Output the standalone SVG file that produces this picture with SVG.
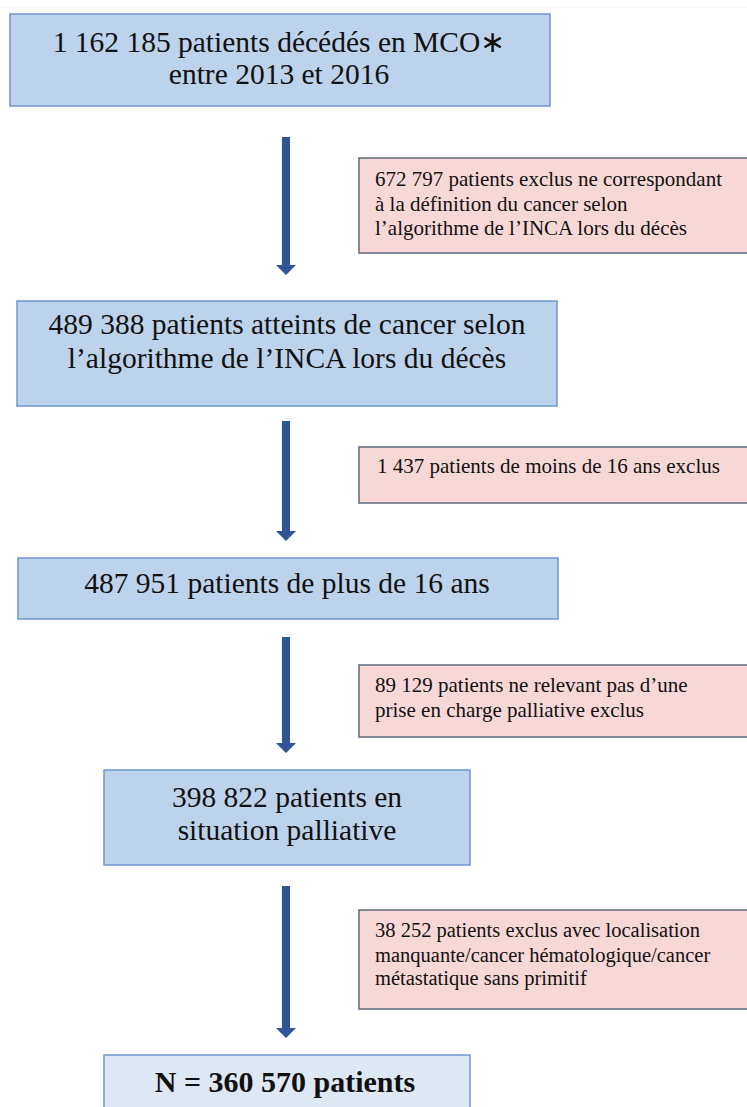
<svg xmlns="http://www.w3.org/2000/svg" width="747" height="1107" viewBox="0 0 747 1107">
<defs>
<style>
.main{fill:#bdd3ec;stroke:#6f95d2;stroke-width:1.5}
.final{fill:#dde8f4;stroke:#6f95d2;stroke-width:1.5}
.excl{fill:#f8d8d7;stroke:#5e6a7e;stroke-width:1.5}
text{font-family:'Liberation Serif','Times New Roman',Times,serif;fill:#111}
.mt{font-size:29.5px;text-anchor:middle}
.bt{font-size:30px;font-weight:bold;text-anchor:middle}
.et{font-size:21px}
.et2{font-size:20.5px}
.arr{fill:#2f5597}
</style>
</defs>
<rect width="747" height="1107" fill="#ffffff"/>
<line x1="0" y1="7" x2="747" y2="7" stroke="#f0f0f0" stroke-width="1"/>

<g id="connectors">
<path class="arr" d="M282,137 H290 V265 H296 L286,275 L276,265 H282 Z"/>
<path class="arr" d="M282,421 H290 V531 H296 L286,541 L276,531 H282 Z"/>
<path class="arr" d="M282,637 H290 V743 H296 L286,753 L276,743 H282 Z"/>
<path class="arr" d="M282,886 H290 V1028 H296 L286,1038 L276,1028 H282 Z"/>
</g>

<g id="n1">
<rect class="main" x="10" y="14" width="540" height="92"/>
<text class="mt" x="279" y="52">1 162 185 patients décédés en MCO∗</text>
<text class="mt" x="279" y="84">entre 2013 et 2016</text>
</g>

<g id="e1">
<rect class="excl" x="359" y="158" width="392" height="95"/>
<text class="et" x="375" y="186">672 797 patients exclus ne correspondant</text>
<text class="et" x="375" y="211">à la définition du cancer selon</text>
<text class="et" x="375" y="235">l’algorithme de l’INCA lors du décès</text>
</g>

<g id="n2">
<rect class="main" x="17" y="301" width="540" height="105"/>
<text class="mt" x="287" y="334">489 388 patients atteints de cancer selon</text>
<text class="mt" x="287" y="368">l’algorithme de l’INCA lors du décès</text>
</g>

<g id="e2">
<rect class="excl" x="359" y="447" width="392" height="56"/>
<text class="et" x="377" y="473">1 437 patients de moins de 16 ans exclus</text>
</g>

<g id="n3">
<rect class="main" x="18" y="558" width="540" height="61"/>
<text class="mt" x="287" y="593">487 951 patients de plus de 16 ans</text>
</g>

<g id="e3">
<rect class="excl" x="359" y="665" width="392" height="72"/>
<text class="et" x="375" y="692">89 129 patients ne relevant pas d’une</text>
<text class="et" x="375" y="717">prise en charge palliative exclus</text>
</g>

<g id="n4">
<rect class="main" x="104" y="770" width="366" height="95"/>
<text class="mt" x="287" y="807">398 822 patients en</text>
<text class="mt" x="287" y="840">situation palliative</text>
</g>

<g id="e4">
<rect class="excl" x="359" y="910" width="392" height="99"/>
<text class="et2" x="375" y="937">38 252 patients exclus avec localisation</text>
<text class="et2" x="375" y="962">manquante/cancer hématologique/cancer</text>
<text class="et2" x="375" y="985">métastatique sans primitif</text>
</g>

<g id="n5">
<rect class="final" x="104" y="1055" width="366" height="60"/>
<text class="bt" x="285" y="1092">N = 360 570 patients</text>
</g>
</svg>
